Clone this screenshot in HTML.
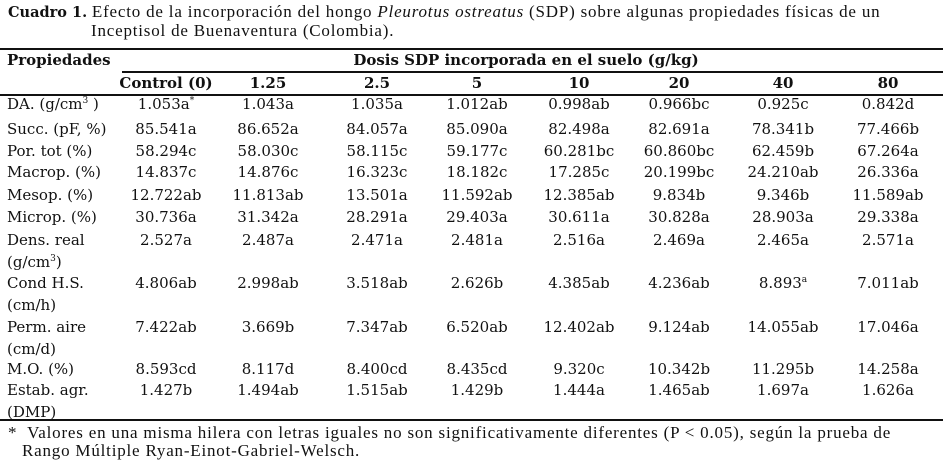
<!DOCTYPE html>
<html><head><meta charset="utf-8">
<style>
body{margin:0;background:#fff;}
#wrap{position:relative;width:949px;height:465px;overflow:hidden;color:#111;font-family:"DejaVu Serif","Liberation Serif",serif;font-size:15px;}
.t{position:absolute;white-space:nowrap;line-height:18px;}
.c{transform:translateX(-50%);}
.b{font-weight:bold;}
.rule{position:absolute;background:#111;height:2px;}
.tm{font-family:"Liberation Serif",serif;font-size:17px;letter-spacing:0.8px;}
sup{font-size:9px;line-height:0;vertical-align:6px;}
</style></head><body>
<div id="wrap">
<div class="t" style="left:8px;top:3px"><span class="b" style="font-size:14.5px">Cuadro 1.</span> <span class="tm">Efecto de la incorporación del hongo <i>Pleurotus ostreatus</i> (SDP) sobre algunas propiedades físicas de un</span></div>
<div class="t tm" style="left:91px;top:22px">Inceptisol de Buenaventura (Colombia).</div>
<div class="rule" style="left:0;width:943px;top:48px"></div>
<div class="t b" style="left:7px;top:51px">Propiedades</div>
<div class="t b c" style="left:526px;top:51px">Dosis SDP incorporada en el suelo (g/kg)</div>
<div class="rule" style="left:122px;width:821px;top:71px"></div>
<div class="rule" style="left:0;width:943px;top:94px"></div>
<div class="rule" style="left:0;width:943px;top:419px"></div>
<div class="t tm" style="left:8px;top:424px">*&nbsp; Valores en una misma hilera con letras iguales no son significativamente diferentes (P &lt; 0.05), según la prueba de</div>
<div class="t tm" style="left:22px;top:442px">Rango Múltiple Ryan-Einot-Gabriel-Welsch.</div>
</div>
<script>
const doses=["Control (0)","1.25","2.5","5","10","20","40","80"];
const labels=[["DA. (g/cm<sup>3</sup> )"],["Succ. (pF, %)"],["Por. tot (%)"],["Macrop. (%)"],["Mesop. (%)"],["Microp. (%)"],["Dens. real","(g/cm<sup>3</sup>)"],["Cond H.S.","(cm/h)"],["Perm. aire","(cm/d)"],["M.O. (%)"],["Estab. agr.","(DMP)"]];
const values=[
["1.053a<sup>*</sup>","1.043a","1.035a","1.012ab","0.998ab","0.966bc","0.925c","0.842d"],
["85.541a","86.652a","84.057a","85.090a","82.498a","82.691a","78.341b","77.466b"],
["58.294c","58.030c","58.115c","59.177c","60.281bc","60.860bc","62.459b","67.264a"],
["14.837c","14.876c","16.323c","18.182c","17.285c","20.199bc","24.210ab","26.336a"],
["12.722ab","11.813ab","13.501a","11.592ab","12.385ab","9.834b","9.346b","11.589ab"],
["30.736a","31.342a","28.291a","29.403a","30.611a","30.828a","28.903a","29.338a"],
["2.527a","2.487a","2.471a","2.481a","2.516a","2.469a","2.465a","2.571a"],
["4.806ab","2.998ab","3.518ab","2.626b","4.385ab","4.236ab","8.893<sup>a</sup>","7.011ab"],
["7.422ab","3.669b","7.347ab","6.520ab","12.402ab","9.124ab","14.055ab","17.046a"],
["8.593cd","8.117d","8.400cd","8.435cd","9.320c","10.342b","11.295b","14.258a"],
["1.427b","1.494ab","1.515ab","1.429b","1.444a","1.465ab","1.697a","1.626a"]];
const colX=[166,268,377,477,579,679,783,888];
const rowY=[104,129,151,172,195,217,240,283,327,369,390];
const wrap=document.getElementById('wrap');
function mk(html,x,yc,cls){const d=document.createElement('div');d.className='t '+cls;d.style.left=x+'px';d.style.top=(yc-9)+'px';d.innerHTML=html;wrap.appendChild(d);return d;}
doses.forEach((d,i)=>{const e=mk(d,colX[i],83,'b c');

});
labels.forEach((lab,r)=>{lab.forEach((l,k)=>{const e=mk(l,7,rowY[r]+k*22,'');

});
values[r].forEach((v,i)=>{const e=mk(v,colX[i],rowY[r],'c');

});});
</script>
</body></html>
